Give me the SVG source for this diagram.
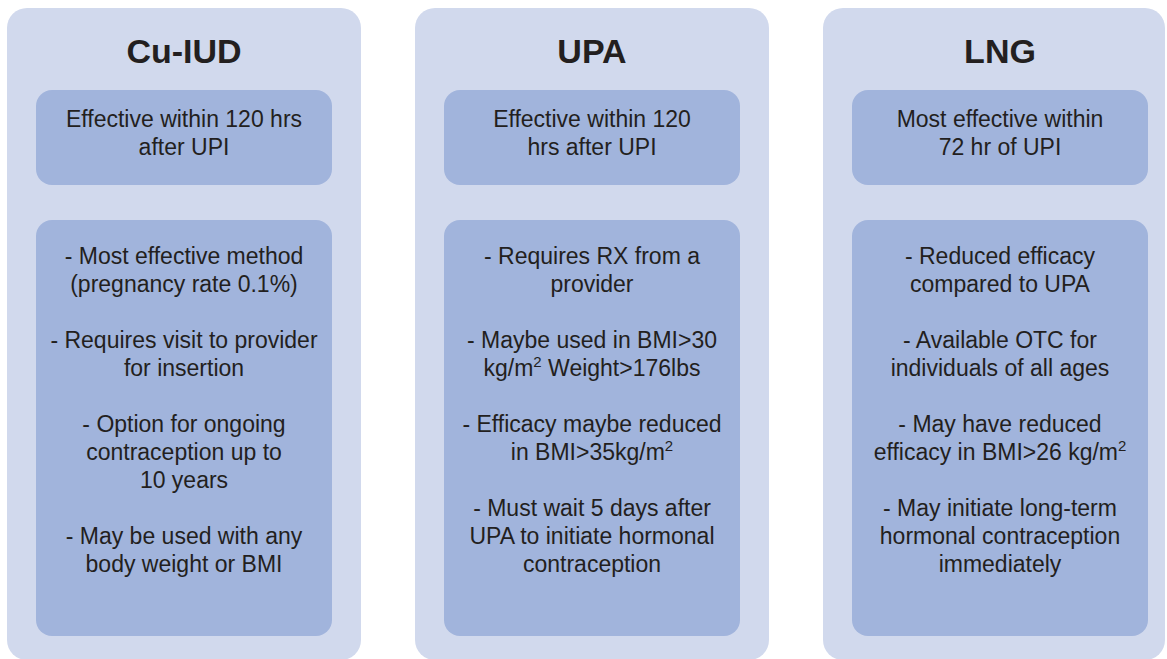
<svg xmlns="http://www.w3.org/2000/svg" width="1167" height="659" viewBox="0 0 1167 659">
<style>
.panel{fill:#D1D9ED}
.box{fill:#A1B4DC}
.title{font-family:"Liberation Sans",Arial,sans-serif;font-weight:bold;font-size:34px;fill:#231F20;text-anchor:middle}
.txt{font-family:"Liberation Sans",Arial,sans-serif;font-size:23px;fill:#231F20;text-anchor:middle}
.sup{font-size:15px}
</style>
<rect width="1167" height="659" fill="#FFFFFF"/>
<g id="cu-iud">
<rect class="panel" x="7" y="8" width="354" height="652" rx="20"/>
<text class="title" x="184" y="63">Cu-IUD</text>
<rect class="box" x="36" y="90" width="296" height="95" rx="16"/>
<text class="txt" x="184" y="127">Effective within 120 hrs</text>
<text class="txt" x="184" y="155">after UPI</text>
<rect class="box" x="36" y="220" width="296" height="416" rx="16"/>
<text class="txt" x="184" y="264">- Most effective method</text>
<text class="txt" x="184" y="292">(pregnancy rate 0.1%)</text>
<text class="txt" x="184" y="348">- Requires visit to provider</text>
<text class="txt" x="184" y="376">for insertion</text>
<text class="txt" x="184" y="432">- Option for ongoing</text>
<text class="txt" x="184" y="460">contraception up to</text>
<text class="txt" x="184" y="488">10 years</text>
<text class="txt" x="184" y="544">- May be used with any</text>
<text class="txt" x="184" y="572">body weight or BMI</text>
</g>
<g id="upa">
<rect class="panel" x="415" y="8" width="354" height="652" rx="20"/>
<text class="title" x="592" y="63">UPA</text>
<rect class="box" x="444" y="90" width="296" height="95" rx="16"/>
<text class="txt" x="592" y="127">Effective within 120</text>
<text class="txt" x="592" y="155">hrs after UPI</text>
<rect class="box" x="444" y="220" width="296" height="416" rx="16"/>
<text class="txt" x="592" y="264">- Requires RX from a</text>
<text class="txt" x="592" y="292">provider</text>
<text class="txt" x="592" y="348">- Maybe used in BMI&gt;30</text>
<text class="txt" x="592" y="376">kg/m<tspan class="sup" dy="-9">2</tspan><tspan dy="9"> Weight&gt;176lbs</tspan></text>
<text class="txt" x="592" y="432">- Efficacy maybe reduced</text>
<text class="txt" x="592" y="460">in BMI&gt;35kg/m<tspan class="sup" dy="-9">2</tspan></text>
<text class="txt" x="592" y="516">- Must wait 5 days after</text>
<text class="txt" x="592" y="544">UPA to initiate hormonal</text>
<text class="txt" x="592" y="572">contraception</text>
</g>
<g id="lng">
<rect class="panel" x="823" y="8" width="342" height="652" rx="20"/>
<text class="title" x="1000" y="63">LNG</text>
<rect class="box" x="852" y="90" width="296" height="95" rx="16"/>
<text class="txt" x="1000" y="127">Most effective within</text>
<text class="txt" x="1000" y="155">72 hr of UPI</text>
<rect class="box" x="852" y="220" width="296" height="416" rx="16"/>
<text class="txt" x="1000" y="264">- Reduced efficacy</text>
<text class="txt" x="1000" y="292">compared to UPA</text>
<text class="txt" x="1000" y="348">- Available OTC for</text>
<text class="txt" x="1000" y="376">individuals of all ages</text>
<text class="txt" x="1000" y="432">- May have reduced</text>
<text class="txt" x="1000" y="460">efficacy in BMI&gt;26 kg/m<tspan class="sup" dy="-9">2</tspan></text>
<text class="txt" x="1000" y="516">- May initiate long-term</text>
<text class="txt" x="1000" y="544">hormonal contraception</text>
<text class="txt" x="1000" y="572">immediately</text>
</g>
<g id="connectors"/>
</svg>
